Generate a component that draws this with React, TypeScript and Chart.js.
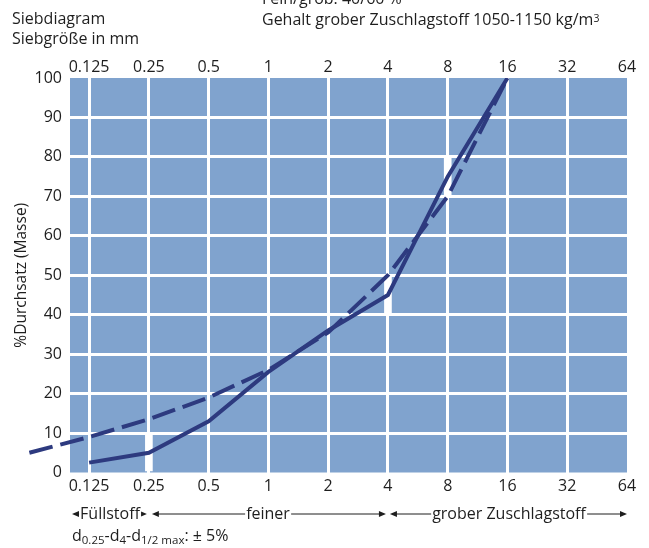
import React, { useEffect, useRef } from "react";
import { Chart, registerables } from "chart.js";

Chart.register(...registerables);

// ---- data ----
const AXIS_SIZES = [0.125, 0.25, 0.5, 1, 2, 4, 8, 16, 32, 64];
const AXIS_LABELS = ["0.125", "0.25", "0.5", "1", "2", "4", "8", "16", "32", "64"];

const SOLID_SIZES = [0.125, 0.25, 0.5, 1, 2, 4, 8, 16];
const SOLID_VALUES = [2.5, 5, 13, 25.5, 36, 45, 75, 100];

const DASHED_SIZES = [0.0625, 0.125, 0.25, 0.5, 1, 2, 4, 8, 16];
const DASHED_VALUES = [5, 9, 13.5, 19, 26, 35.5, 50, 70, 100];

const TOL_SIZES = [0.25, 4, 8];
const TOL_LOW = [0, 40, 70];
const TOL_HIGH = [10, 50, 80];

const Y_TICKS_MIN = 0;
const Y_TICKS_MAX = 100;
const Y_STEP = 10;

const X_MIN_LOG = -3.32;
const X_MAX_LOG = 6;

const BLUE = "#80a3ce";
const NAVY = "#2d3a7f";
const TEXT = "#1e1e1e";
const FONT = "'Open Sans', 'Noto Sans', sans-serif";

const lg = (v: number) => Math.log2(v);

const bgPlugin = {
  id: "bgFill",
  beforeDraw(chart: any) {
    const { ctx, chartArea } = chart;
    ctx.save();
    ctx.fillStyle = BLUE;
    ctx.fillRect(chartArea.left, chartArea.top, chartArea.right - chartArea.left, chartArea.bottom - chartArea.top);
    ctx.restore();
  },
};

const arrowPlugin = {
  id: "rangeArrows",
  afterDraw(chart: any) {
    const { ctx, chartArea } = chart;
    const xs = chart.scales.x;
    const y = 514;
    const segs = [
      [chartArea.left + 2, xs.getPixelForValue(lg(0.25)) - 2],
      [xs.getPixelForValue(lg(0.25)) + 3, xs.getPixelForValue(lg(4)) - 2],
      [xs.getPixelForValue(lg(4)) + 2, xs.getPixelForValue(lg(64))],
    ];
    ctx.save();
    ctx.strokeStyle = TEXT;
    ctx.fillStyle = TEXT;
    ctx.lineWidth = 1;
    for (const [a, b] of segs) {
      ctx.beginPath();
      ctx.moveTo(a + 4, y);
      ctx.lineTo(b - 4, y);
      ctx.stroke();
      ctx.beginPath();
      ctx.moveTo(a, y);
      ctx.lineTo(a + 7, y - 3);
      ctx.lineTo(a + 7, y + 3);
      ctx.closePath();
      ctx.fill();
      ctx.beginPath();
      ctx.moveTo(b, y);
      ctx.lineTo(b - 7, y - 3);
      ctx.lineTo(b - 7, y + 3);
      ctx.closePath();
      ctx.fill();
    }
    ctx.restore();
  },
};

const hideEdge = (edges: number[]) => (c: any) =>
  c.tick && edges.some((e) => Math.abs(c.tick.value - e) < 1e-6) ? "rgba(0,0,0,0)" : "#ffffff";

export default function App() {
  const ref = useRef<HTMLCanvasElement | null>(null);

  useEffect(() => {
    if (!ref.current) return;
    const tickFont = { family: FONT, size: 16 };
    const setTicks = (s: any) => {
      s.ticks = AXIS_SIZES.map((v) => ({ value: lg(v) }));
    };
    const labelFor = (v: any) => {
      const i = AXIS_SIZES.findIndex((s) => Math.abs(lg(s) - Number(v)) < 1e-6);
      return i >= 0 ? AXIS_LABELS[i] : "";
    };
    const chart = new Chart(ref.current, {
      type: "line",
      data: {
        datasets: [
          {
            type: "line",
            label: "Sieblinie",
            data: SOLID_SIZES.map((s, i) => ({ x: lg(s), y: SOLID_VALUES[i] })),
            borderColor: NAVY,
            borderWidth: 4,
            pointRadius: 0,
            tension: 0,
            fill: false,
            order: 0,
          },
          {
            type: "line",
            label: "Referenz",
            data: DASHED_SIZES.map((s, i) => ({ x: lg(s), y: DASHED_VALUES[i] })),
            borderColor: NAVY,
            borderWidth: 4,
            borderDash: [24, 8],
            pointRadius: 0,
            tension: 0,
            fill: false,
            clip: false,
            order: 0,
          },
          {
            type: "bar",
            label: "Toleranz",
            data: TOL_SIZES.map((s, i) => ({ x: lg(s), y: [TOL_LOW[i], TOL_HIGH[i]] })) as any,
            backgroundColor: "#ffffff",
            borderWidth: 0,
            barThickness: 7,
            grouped: false,
            order: 5,
          } as any,
        ],
      },
      options: {
        animation: false,
        responsive: false,
        maintainAspectRatio: false,
        layout: { padding: { top: 48, right: 22, left: 0, bottom: 0 } },
        plugins: {
          legend: { display: false },
          tooltip: { enabled: false },
          title: { display: false },
        },
        scales: {
          x: {
            type: "linear",
            position: "bottom",
            min: X_MIN_LOG,
            max: X_MAX_LOG,
            offset: false,
            afterBuildTicks: setTicks,
            afterFit: (s: any) => {
              s.height = 75.5;
            },
            ticks: { font: tickFont, color: TEXT, padding: 4, maxRotation: 0, autoSkip: false, callback: labelFor },
            grid: { color: hideEdge([X_MAX_LOG]), lineWidth: 3, drawTicks: false, offset: false },
            border: { display: false },
          },
          x2: {
            type: "linear",
            axis: "x",
            position: "top",
            min: X_MIN_LOG,
            max: X_MAX_LOG,
            offset: false,
            afterBuildTicks: setTicks,
            afterFit: (s: any) => {
              s.height = 30;
            },
            ticks: { font: tickFont, color: TEXT, padding: 1, maxRotation: 0, autoSkip: false, callback: labelFor },
            grid: { display: false, drawTicks: false },
            border: { display: false },
          },
          y: {
            type: "linear",
            min: Y_TICKS_MIN,
            max: Y_TICKS_MAX,
            afterFit: (s: any) => {
              s.width = 70;
            },
            ticks: { stepSize: Y_STEP, font: tickFont, color: TEXT, padding: 8 },
            grid: { color: hideEdge([Y_TICKS_MIN, Y_TICKS_MAX]), lineWidth: 3, drawTicks: false },
            border: { display: false },
            title: {
              display: true,
              text: "%Durchsatz (Masse)",
              font: { family: FONT, size: 15.5 },
              color: TEXT,
              padding: { top: 12, bottom: 0 },
            },
          },
        },
      } as any,
      plugins: [bgPlugin, arrowPlugin],
    });
    return () => chart.destroy();
  }, []);

  const txt: React.CSSProperties = {
    position: "absolute",
    fontFamily: FONT,
    fontSize: "16px",
    lineHeight: "20px",
    color: TEXT,
    whiteSpace: "nowrap",
    margin: 0,
  };
  const sub: React.CSSProperties = { fontSize: "11.5px", verticalAlign: "-3px", lineHeight: "0" };
  const label = (left: number, content: React.ReactNode): React.ReactNode => (
    <div style={{ ...txt, left, top: 503, transform: "translateX(-50%)", background: "#fff", padding: "0 1px" }}>
      {content}
    </div>
  );

  return (
    <div style={{ position: "fixed", left: 0, top: 0, width: 649, height: 548, background: "#fff", overflow: "hidden" }}>
      <canvas ref={ref} width={649} height={548} style={{ position: "absolute", left: 0, top: 0, width: 649, height: 548 }} />
      <div style={{ ...txt, left: 12, top: 8 }}>Siebdiagram</div>
      <div style={{ ...txt, left: 12, top: 28 }}>Siebgröße in mm</div>
      <div style={{ ...txt, left: 262, top: -12 }}>Fein/grob: 40/60 %</div>
      <div style={{ ...txt, left: 262, top: 8 }}>
        Gehalt grober Zuschlagstoff 1050-1150 kg/m<span style={{ fontSize: "10.5px", verticalAlign: "3px" }}>3</span>
      </div>
      {label(110, "Füllstoff")}
      {label(268, "feiner")}
      {label(509, "grober Zuschlagstoff")}
      <div style={{ ...txt, left: 72, top: 525 }}>
        d<sub style={sub}>0.25</sub>-d<sub style={sub}>4</sub>-d<sub style={sub}>1/2 max</sub>: ± 5%
      </div>
    </div>
  );
}
